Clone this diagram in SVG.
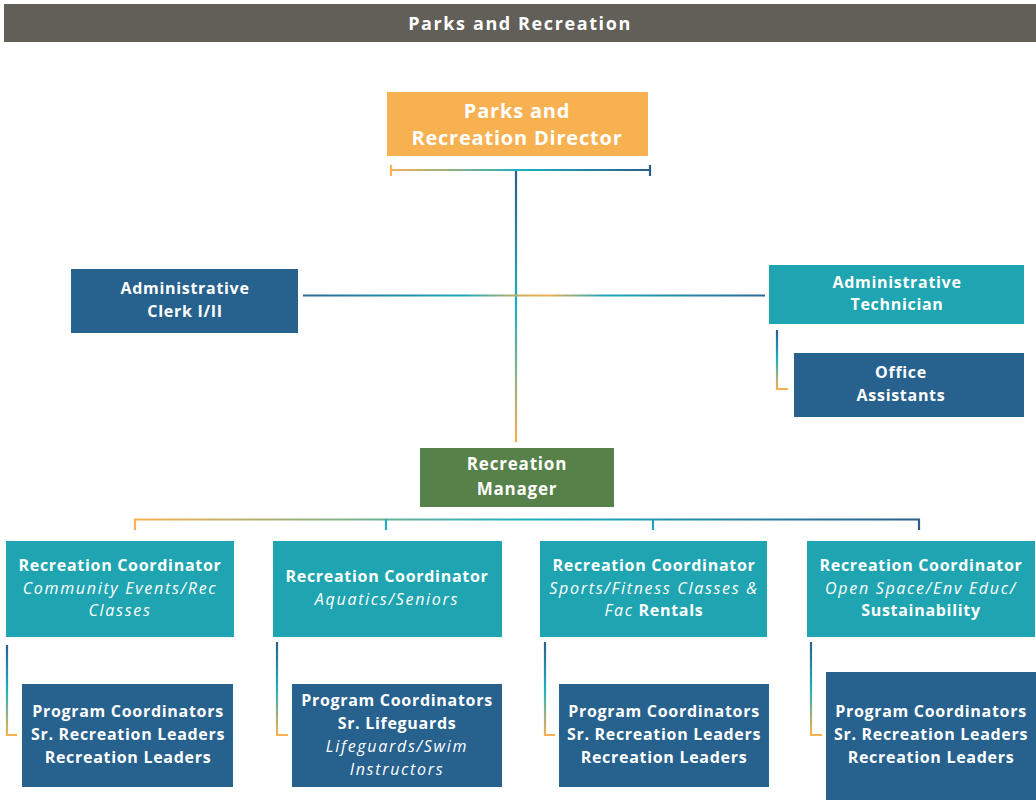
<svg xmlns="http://www.w3.org/2000/svg" width="1036" height="800" viewBox="0 0 1036 800">
  <defs>
    <style>
      text { font-family: "Open Sans", "DejaVu Sans", sans-serif; fill: #ffffff; text-anchor: middle; dominant-baseline: central; }
      .b { font-weight: 700; font-size: 16px; letter-spacing: 0.7px; }
      .i { font-style: italic; font-weight: 400; font-size: 16px; letter-spacing: 1.7px; }
      .big { font-weight: 700; font-size: 20px; letter-spacing: 0.8px; }
      .mgr { font-weight: 700; font-size: 17px; letter-spacing: 0.8px; }
      .title { font-weight: 700; font-size: 18px; letter-spacing: 1.6px; }
      .blue { fill: #27618e; }
      .teal { fill: #1fa5b1; }
      .line { fill: none; stroke-width: 2.2; }
    </style>
    <linearGradient id="gTop" gradientUnits="userSpaceOnUse" x1="391" y1="0" x2="650" y2="0">
      <stop offset="0" stop-color="#f7b150"/>
      <stop offset="0.5" stop-color="#1fb0c0"/>
      <stop offset="1" stop-color="#2b5e8e"/>
    </linearGradient>
    <linearGradient id="gBranch" gradientUnits="userSpaceOnUse" x1="135" y1="0" x2="919" y2="0">
      <stop offset="0" stop-color="#f7b150"/>
      <stop offset="0.5" stop-color="#1fb0c0"/>
      <stop offset="1" stop-color="#2b5e8e"/>
    </linearGradient>
    <linearGradient id="gSpine" gradientUnits="userSpaceOnUse" x1="0" y1="172" x2="0" y2="442">
      <stop offset="0" stop-color="#2b5e8e"/>
      <stop offset="0.5" stop-color="#1fb0c0"/>
      <stop offset="1" stop-color="#f7b150"/>
    </linearGradient>
    <linearGradient id="gCross" gradientUnits="userSpaceOnUse" x1="303" y1="0" x2="765" y2="0">
      <stop offset="0" stop-color="#2b6a98"/>
      <stop offset="0.35" stop-color="#1fa8b8"/>
      <stop offset="0.47" stop-color="#c8b060"/>
      <stop offset="0.53" stop-color="#f2b050"/>
      <stop offset="0.65" stop-color="#1fa8b8"/>
      <stop offset="1" stop-color="#2b6a98"/>
    </linearGradient>
    <linearGradient id="gDrop" x1="0" y1="0" x2="0" y2="1">
      <stop offset="0" stop-color="#2b5e8e"/>
      <stop offset="0.5" stop-color="#1fb0c0"/>
      <stop offset="1" stop-color="#f7b150"/>
    </linearGradient>
  </defs>

  <rect x="0" y="0" width="1036" height="800" fill="#ffffff"/>

  <!-- header band -->
  <g id="header">
    <rect x="4" y="4" width="1032" height="38" fill="#625f59"/>
    <text class="title" x="520" y="23">Parks and Recreation</text>
  </g>

  <!-- connectors -->
  <g id="connectors">
    <!-- director bar with end ticks -->
    <path class="line" stroke="url(#gTop)" d="M391 170 H650"/>
    <path class="line" stroke="#f7b150" d="M391 165 V176"/>
    <path class="line" stroke="#2b5e8e" d="M650 165 V176"/>
    <!-- spine down to manager -->
    <path class="line" stroke="url(#gSpine)" d="M516 171 V442"/>
    <!-- cross line to administrative staff -->
    <path class="line" stroke="url(#gCross)" d="M303 295.5 H765"/>
    <!-- technician to office assistants -->
    <path class="line" stroke="url(#gDrop)" d="M777 330 V389 H788"/>
    <!-- manager branch to coordinators -->
    <path class="line" stroke="url(#gBranch)" d="M135 530 V519.5 H919 V530"/>
    <path class="line" stroke="#1fb0c0" d="M386 519 V530"/>
    <path class="line" stroke="#22a3bb" d="M653 519 V530"/>
    <!-- coordinator to team drops -->
    <path class="line" stroke="url(#gDrop)" d="M7 645 V735 H17"/>
    <path class="line" stroke="url(#gDrop)" d="M277 642 V735 H288"/>
    <path class="line" stroke="url(#gDrop)" d="M545 642 V735 H555"/>
    <path class="line" stroke="url(#gDrop)" d="M811 642 V735 H822"/>
  </g>

  <g id="director">
    <rect x="387" y="92" width="261" height="64" fill="#f7b150"/>
    <text class="big" x="517" y="110">Parks and</text>
    <text class="big" x="517" y="137">Recreation Director</text>
  </g>

  <g id="admin-clerk">
    <rect class="blue" x="71" y="269" width="227" height="64"/>
    <text class="b" x="185" y="288">Administrative</text>
    <text class="b" x="185" y="311">Clerk I/II</text>
  </g>

  <g id="admin-tech">
    <rect class="teal" x="769" y="265" width="255" height="59"/>
    <text class="b" x="897" y="282">Administrative</text>
    <text class="b" x="897" y="304">Technician</text>
  </g>

  <g id="office-assistants">
    <rect class="blue" x="794" y="353" width="230" height="64"/>
    <text class="b" x="901" y="372">Office</text>
    <text class="b" x="901" y="395">Assistants</text>
  </g>

  <g id="rec-manager">
    <rect x="420" y="448" width="194" height="59" fill="#568149"/>
    <text class="mgr" x="517" y="463">Recreation</text>
    <text class="mgr" x="517" y="488">Manager</text>
  </g>

  <g id="coord-community">
    <rect class="teal" x="6" y="541" width="228" height="96"/>
    <text class="b" x="120" y="565">Recreation Coordinator</text>
    <text class="i" x="120" y="588">Community Events/Rec</text>
    <text class="i" x="120" y="610">Classes</text>
  </g>

  <g id="coord-aquatics">
    <rect class="teal" x="273" y="541" width="229" height="96"/>
    <text class="b" x="387" y="576">Recreation Coordinator</text>
    <text class="i" x="387" y="599">Aquatics/Seniors</text>
  </g>

  <g id="coord-sports">
    <rect class="teal" x="540" y="541" width="227" height="96"/>
    <text class="b" x="654" y="565">Recreation Coordinator</text>
    <text class="i" x="654" y="588">Sports/Fitness Classes &amp;</text>
    <text x="654" y="610"><tspan class="i">Fac</tspan><tspan class="b"> Rentals</tspan></text>
  </g>

  <g id="coord-openspace">
    <rect class="teal" x="807" y="541" width="228" height="96"/>
    <text class="b" x="921" y="565">Recreation Coordinator</text>
    <text class="i" x="921" y="588">Open Space/Env Educ/</text>
    <text class="b" x="921" y="610">Sustainability</text>
  </g>

  <g id="team-community">
    <rect class="blue" x="22" y="684" width="211" height="103"/>
    <text class="b" x="128" y="711">Program Coordinators</text>
    <text class="b" x="128" y="734">Sr. Recreation Leaders</text>
    <text class="b" x="128" y="757">Recreation Leaders</text>
  </g>

  <g id="team-aquatics">
    <rect class="blue" x="292" y="684" width="210" height="103"/>
    <text class="b" x="397" y="700">Program Coordinators</text>
    <text class="b" x="397" y="723">Sr. Lifeguards</text>
    <text class="i" x="397" y="746">Lifeguards/Swim</text>
    <text class="i" x="397" y="769">Instructors</text>
  </g>

  <g id="team-sports">
    <rect class="blue" x="559" y="684" width="210" height="103"/>
    <text class="b" x="664" y="711">Program Coordinators</text>
    <text class="b" x="664" y="734">Sr. Recreation Leaders</text>
    <text class="b" x="664" y="757">Recreation Leaders</text>
  </g>

  <g id="team-openspace">
    <rect class="blue" x="826" y="672" width="210" height="128"/>
    <text class="b" x="931" y="711">Program Coordinators</text>
    <text class="b" x="931" y="734">Sr. Recreation Leaders</text>
    <text class="b" x="931" y="757">Recreation Leaders</text>
  </g>
</svg>
